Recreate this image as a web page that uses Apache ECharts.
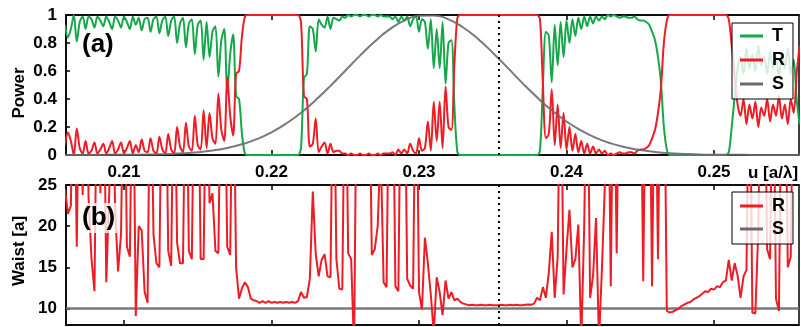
<!DOCTYPE html>
<html><head><meta charset="utf-8">
<script src="https://cdn.jsdelivr.net/npm/echarts@6/dist/echarts.min.js"></script>
<style>html,body{margin:0;padding:0;background:#fff}#c{width:801px;height:327px}</style>
</head><body><div id="c"></div>
<script>
// sampling grid of the T/R/Waist curves (u in a/lambda)
const uStart = 0.2060, uStep = 0.0002;
const tVals = [
 0.93,0.84,0.90,1.00,0.81,0.95,0.99,0.90,0.99,0.97,
 0.91,0.99,0.96,0.92,0.99,0.95,0.90,0.99,0.96,0.91,
 0.99,0.95,0.90,0.99,0.93,0.98,0.89,0.97,0.98,0.88,
 0.97,0.99,0.87,0.96,0.99,0.85,0.96,0.99,0.80,0.94,
 0.98,0.77,0.94,0.97,0.72,0.93,0.96,0.68,0.95,0.70,
 0.88,0.92,0.56,0.82,0.90,0.44,0.72,0.86,0.42,0.40,
 0.15,0.01,0,0,0,0,0,0,0,0,0,0,0,0,0,0,0,0,0,0,
 0.05,0.55,0.58,0.92,0.90,0.74,0.97,0.93,0.91,0.99,
 0.90,0.98,0.97,0.96,0.99,0.98,1.0,0.99,1.0,1.0,
 0.99,1.0,1.0,0.99,1.0,1.0,0.99,1.0,0.99,0.99,
 0.99,0.97,0.99,0.95,0.99,0.96,0.99,0.92,0.97,0.99,
 0.88,0.97,0.95,0.76,0.97,0.62,0.90,0.62,0.95,0.51,
 0.80,0.82,0.35,0.02,
 0,0,0,0,0,0,0,0,0,0,0,0,0,0,0,0,0,0,0,0,0,0,0,0,0,0,0,
 0.03,0.50,0.88,0.85,0.52,0.93,0.64,0.95,0.70,0.96,
 0.80,0.97,0.85,0.98,0.90,0.99,0.92,0.99,0.94,0.99,
 0.96,0.99,0.97,1.0,0.99,1.0,0.99,0.98,0.99,0.99,
 0.98,0.98,0.99,0.97,0.96,0.96,0.95,0.93,0.88,0.82,
 0.70,0.52,0.20,0.04,
 0,0,0,0,0,0,0,0,0,0,0,0,0,0,0,0,0,0,0,0,
 0.02,0.20,0.42,0.62,0.70,0.58,0.76,0.62,0.72,0.60,
 0.78,0.64,0.70,0.58,0.74,0.62,0.70,0.56,0.72,0.62,
 0.76,0.58,0.68,0.40,0.22
];
const rVals = [
 0.07,0.16,0.10,0.00,0.19,0.05,0.01,0.10,0.01,0.03,
 0.09,0.01,0.04,0.08,0.01,0.05,0.10,0.01,0.04,0.09,
 0.01,0.05,0.10,0.01,0.07,0.02,0.11,0.03,0.02,0.12,
 0.03,0.01,0.13,0.04,0.01,0.15,0.04,0.01,0.20,0.06,
 0.02,0.23,0.06,0.03,0.28,0.07,0.04,0.32,0.05,0.30,
 0.12,0.08,0.44,0.18,0.10,0.56,0.28,0.14,0.58,0.60,
 0.85,0.99,1,1,1,1,1,1,1,1,1,1,1,1,1,1,1,1,1,1,
 0.95,0.42,0.40,0.06,0.08,0.26,0.02,0.06,0.09,0.01,
 0.08,0.02,0.03,0.03,0.01,0.01,0.0,0.01,0.0,0.0,
 0.01,0.0,0.0,0.01,0.0,0.0,0.01,0.0,0.01,0.01,
 0.01,0.02,0.0,0.04,0.01,0.04,0.01,0.08,0.03,0.01,
 0.12,0.03,0.05,0.24,0.03,0.38,0.10,0.38,0.05,0.49,
 0.20,0.18,0.65,0.98,
 1,1,1,1,1,1,1,1,1,1,1,1,1,1,1,1,1,1,1,1,1,1,1,1,1,1,1,
 0.97,0.50,0.12,0.15,0.47,0.07,0.36,0.05,0.30,0.04,
 0.20,0.03,0.15,0.02,0.10,0.01,0.08,0.01,0.06,0.01,
 0.04,0.01,0.03,0.0,0.01,0.0,0.01,0.02,0.01,0.01,
 0.02,0.02,0.01,0.03,0.04,0.04,0.05,0.07,0.12,0.18,
 0.30,0.48,0.80,0.96,
 1,1,1,1,1,1,1,1,1,1,1,1,1,1,1,1,1,1,1,1,
 0.97,0.78,0.56,0.36,0.28,0.40,0.22,0.36,0.26,0.38,
 0.20,0.34,0.28,0.40,0.24,0.36,0.28,0.42,0.26,0.36,
 0.22,0.40,0.30,0.58,0.78
];
const waistR = [
 24.5,21.5,22.5,45,17.5,45,23.8,45,23.5,16,
 12.1,45,24,45,13.2,24,45,22,14.5,19,
 45,17.5,16.3,45,9.1,20,19.5,12,10.7,45,
 19,15.5,15,45,45,17,15.2,45,18,15.5,
 15.5,45,17,16,45,45,16,16,45,22.8,
 24,17,16.7,45,45,17.5,16.5,45,15,11.2,
 12.5,13.2,12.6,11.2,11.0,10.9,10.7,10.9,10.7,10.9,
 10.7,10.8,10.7,10.8,10.7,10.8,10.7,10.8,10.7,10.9,
 12.0,11.3,11.4,13.6,24.2,16.6,13.9,15.9,16.6,13.9,
 13.8,45,16,12.4,12.3,45,16.7,16.0,5,45,
 45,45,45,45,16.5,17.2,20,30,13.2,12.6,
 45,45,12.7,12.1,45,45,13.6,12.8,12.4,45,
 12,9.9,18.6,15.5,11.7,7,13.8,12,9.2,13.4,
 11.2,12,11,11.2,
 10.8,10.6,10.5,
 10.4,10.45,10.4,10.4,10.45,10.4,10.4,10.45,10.4,10.4,
 10.4,10.45,10.4,10.4,10.45,10.4,10.45,10.4,10.4,
 10.45,10.5,10.45,10.6,11.3,
 11.0,12.6,11.3,14.4,19.3,11.3,16.3,45,11.7,17.2,
 22,15,16,20.2,6,20,45,11.3,14,21,
 6,14.8,25,45,12.7,45,16.7,45,45,45,
 45,45,45,45,45,13.3,45,45,12.7,45,
 16,45,45,9.7,
 9.5,9.6,9.8,10.0,10.3,10.5,10.7,10.8,11.1,11.3,
 11.5,11.8,12.1,12.0,12.4,12.3,12.7,12.6,13.2,13.4,
 15.9,13.4,15.5,14,11.3,13.9,14.7,45,9.5,9.4,
 19.5,45,45,17.2,16,45,11.2,9.7,45,45,
 15,16.3,45,45,45
];
// source spectrum S, sampled every 0.001 from 0.206
const sStart = 0.206, sStep = 0.001;
const sVals = [
 0,0,0,0.001,0.001,0.002,0.004,0.007,0.012,0.02,
 0.032,0.05,0.077,0.113,0.162,0.225,0.302,0.393,0.494,0.602,
 0.71,0.811,0.897,0.96,0.994,0.997,0.969,0.911,0.829,0.731,
 0.624,0.515,0.412,0.319,0.239,0.174,0.122,0.083,0.055,0.035,
 0.022,0.013,0.008,0.004,0.002,0.001,0.001,0,0,0,0
];
const waistSValue = 10;
const xTicks = [0.21,0.22,0.23,0.24,0.25];
const powerTicks = [0,0.2,0.4,0.6,0.8,1];
const waistTicks = [10,15,20,25];
const xMin = 0.20607, xMax = 0.25576;
const waistMin = 8, waistMax = 25;
const markerU = 0.2354;

const GREEN = '#14a84a', RED = '#ee1c25', GRAY = '#6a6a6a';
const FONT = 'Arial, "Liberation Sans", Helvetica, sans-serif';

const uGrid = tVals.map((_, i) => +(uStart + i * uStep).toFixed(4));
const pairs = arr => arr.map((v, i) => [uGrid[i], v]);
const sPairs = sVals.map((v, i) => [+(sStart + i * sStep).toFixed(3), v]);
const wSPairs = [[xMin, waistSValue], [xMax, waistSValue]];

const lbl = {fontFamily: FONT, fontWeight: 'bold', fontSize: 17, color: '#000'};
const axLine = {show: true, lineStyle: {color: '#000', width: 1.5}};
const tickIn = {show: true, inside: true, length: 5, customValues: xTicks, lineStyle: {color: '#000', width: 1.5}};
const dotted = {
  silent: true, symbol: 'none', precision: 5, label: {show: false},
  lineStyle: {color: '#000', type: [2, 4], width: 2},
  data: [{xAxis: markerU}]
};
const xHidden = (g, pos) => ({gridIndex: g, type: 'value', min: xMin, max: xMax, position: pos, axisLine: axLine, axisTick: tickIn, axisLabel: {show: false}, splitLine: {show: false}});

const chart = echarts.init(document.getElementById('c'), null, {renderer: 'canvas'});
chart.setOption({
  animation: false,
  backgroundColor: '#fff',
  grid: [
    {left: 66, top: 15, width: 733, height: 140, show: true, borderColor: '#000', borderWidth: 1.5, outerBoundsMode: 'none', containLabel: false},
    {left: 66, top: 185, width: 733, height: 140, show: true, borderColor: '#000', borderWidth: 1.5, outerBoundsMode: 'none', containLabel: false}
  ],
  xAxis: [
    xHidden(0, 'bottom'),
    xHidden(0, 'top'),
    {gridIndex: 1, type: 'value', min: xMin, max: xMax, position: 'top', axisLine: axLine, axisTick: tickIn,
      axisLabel: Object.assign({show: true, margin: 4, customValues: xTicks, formatter: v => v.toFixed(2)}, lbl), splitLine: {show: false}},
    xHidden(1, 'bottom')
  ],
  yAxis: [
    {gridIndex: 0, type: 'value', min: 0, max: 1, axisLine: axLine,
      axisTick: {show: true, inside: true, length: 4, customValues: powerTicks, lineStyle: {color: '#000', width: 1.5}},
      axisLabel: Object.assign({margin: 9, customValues: powerTicks}, lbl), splitLine: {show: false}},
    {gridIndex: 1, type: 'value', min: waistMin, max: waistMax, axisLine: axLine,
      axisTick: {show: true, inside: true, length: 4, customValues: waistTicks, lineStyle: {color: '#000', width: 1.5}},
      axisLabel: Object.assign({margin: 9, customValues: waistTicks}, lbl), splitLine: {show: false}}
  ],
  legend: [
    {data: ['T', 'R', 'S'], left: 732, top: 23, orient: 'vertical', icon: 'rect', itemWidth: 23, itemHeight: 3, itemGap: 6,
      textStyle: {fontFamily: FONT, fontWeight: 'bold', fontSize: 18, color: '#000', padding: [0, 0, 0, 4]},
      backgroundColor: 'rgba(255,255,255,0.8)', borderColor: '#000', borderWidth: 1, borderRadius: 0, padding: [4, 8, 6, 8], selectedMode: false},
    {data: ['R', 'S'], left: 732, top: 192, orient: 'vertical', icon: 'rect', itemWidth: 23, itemHeight: 3, itemGap: 5,
      textStyle: {fontFamily: FONT, fontWeight: 'bold', fontSize: 18, color: '#000', padding: [0, 0, 0, 4]},
      backgroundColor: 'rgba(255,255,255,0.8)', borderColor: '#000', borderWidth: 1, borderRadius: 0, padding: [5, 8, 6, 8], selectedMode: false}
  ],
  series: [
    {name: 'T', type: 'line', xAxisIndex: 0, yAxisIndex: 0, data: pairs(tVals), showSymbol: false, smooth: 0.3, color: GREEN,
      lineStyle: {color: GREEN, width: 2}, markLine: dotted},
    {name: 'R', type: 'line', xAxisIndex: 0, yAxisIndex: 0, data: pairs(rVals), showSymbol: false, smooth: 0.3, color: RED,
      lineStyle: {color: RED, width: 2}},
    {name: 'S', type: 'line', xAxisIndex: 0, yAxisIndex: 0, data: sPairs, showSymbol: false, smooth: true, color: GRAY,
      lineStyle: {color: GRAY, width: 2, opacity: 0.9}},
    {name: 'S', type: 'line', xAxisIndex: 2, yAxisIndex: 1, data: wSPairs, showSymbol: false, color: GRAY,
      lineStyle: {color: GRAY, width: 2.5, opacity: 0.9}, z: 1},
    {name: 'R', type: 'line', xAxisIndex: 2, yAxisIndex: 1, data: pairs(waistR), showSymbol: false, color: RED,
      lineStyle: {color: RED, width: 2}, markLine: dotted, z: 2}
  ],
  graphic: [
    {type: 'text', x: 82, y: 45, z: 50, style: {text: '(a)', font: 'bold 26px ' + FONT, fill: '#000', verticalAlign: 'middle', textVerticalAlign: 'middle'}},
    {type: 'text', x: 80, y: 218, z: 50, style: {text: '(b)', font: 'bold 26px ' + FONT, fill: '#000', verticalAlign: 'middle', textVerticalAlign: 'middle',
      backgroundColor: 'rgba(255,255,255,0.75)', padding: [2, 2, 2, 2]}},
    {type: 'text', x: 19, y: 93, rotation: Math.PI / 2, style: {text: 'Power', font: 'bold 17px ' + FONT, fill: '#000', align: 'center', textAlign: 'center', verticalAlign: 'middle', textVerticalAlign: 'middle'}},
    {type: 'text', x: 19, y: 251, rotation: Math.PI / 2, style: {text: 'Waist [a]', font: 'bold 17px ' + FONT, fill: '#000', align: 'center', textAlign: 'center', verticalAlign: 'middle', textVerticalAlign: 'middle'}},
    {type: 'text', x: 748, y: 173, style: {text: 'u [a/λ]', font: 'bold 17px ' + FONT, fill: '#000', verticalAlign: 'middle', textVerticalAlign: 'middle'}}
  ]
});
</script>
</body></html>
